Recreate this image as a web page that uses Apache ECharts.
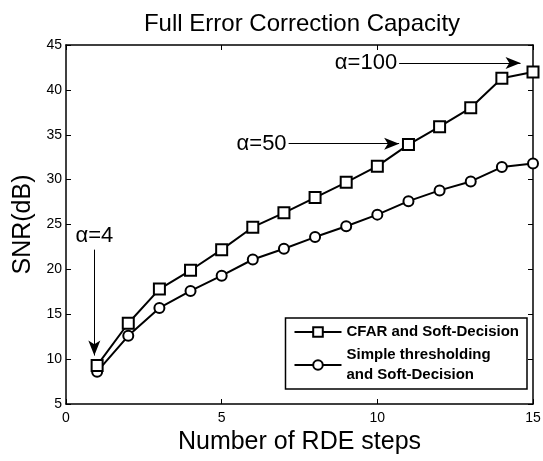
<!DOCTYPE html>
<html>
<head>
<meta charset="utf-8">
<script src="https://cdn.jsdelivr.net/npm/echarts@6/dist/echarts.min.js"></script>
<style>
  html, body { margin: 0; padding: 0; background: #fff; }
  #chart { width: 543px; height: 461px; }
</style>
</head>
<body>
<div id="chart"></div>
<script>
// data
var steps = [1, 2, 3, 4, 5, 6, 7, 8, 9, 10, 11, 12, 13, 14, 15];
var cfarSnr = [9.3, 14.0, 17.8, 19.9, 22.2, 24.7, 26.3, 28.0, 29.7, 31.5, 33.9, 35.9, 38.0, 41.3, 42.0];
var simpleSnr = [8.6, 12.6, 15.7, 17.6, 19.3, 21.1, 22.3, 23.6, 24.8, 26.1, 27.6, 28.8, 29.8, 31.4, 31.8];
var xTicks = [0, 5, 10, 15];
var yTicks = [5, 10, 15, 20, 25, 30, 35, 40, 45];

// annotation arrows [label, [x0, y0], [x1, y1]]
var arrows = [
  ['α=100', [10.7, 43.0], [14.6, 43.0]],
  ['α=50', [7.15, 34.0], [10.7, 34.0]],
  ['α=4', [0.91, 22.2], [0.91, 10.4]]
];

var chart = echarts.init(document.getElementById('chart'));

var font = 'Liberation Sans, Arial, sans-serif';

function pair(v) {
  return steps.map(function (s, i) { return [s, v[i]]; });
}

var arrowLines = arrows.map(function (a) {
  var vertical = a[1][0] === a[2][0];
  return [
    {
      coord: a[1],
      label: {
        show: true,
        formatter: a[0],
        position: 'start',
        distance: vertical ? 3 : 2,
        color: '#000',
        fontSize: 22,
        fontFamily: font
      }
    },
    { coord: a[2] }
  ];
});

var option = {
  backgroundColor: '#fff',
  animation: false,
  title: {
    text: 'Full Error Correction Capacity',
    left: 297,
    textAlign: 'center',
    top: 7,
    textStyle: { fontSize: 24, fontWeight: 'normal', color: '#000', fontFamily: font }
  },
  grid: { left: 66, right: 10, top: 45, bottom: 57, outerBoundsMode: 'none' },
  legend: {
    orient: 'vertical',
    right: 16,
    bottom: 72,
    padding: [4, 8, 4, 8],
    itemGap: 3,
    itemWidth: 47,
    itemHeight: 12,
    borderColor: '#000',
    borderWidth: 1.5,
    backgroundColor: '#fff',
    textStyle: { fontSize: 15, fontWeight: 'bold', color: '#000', fontFamily: font, lineHeight: 20 },
    data: ['CFAR and Soft-Decision', 'Simple thresholding\nand Soft-Decision']
  },
  xAxis: [{
    type: 'value',
    min: 0,
    max: 15,
    interval: 5,
    name: 'Number of RDE steps',
    nameLocation: 'middle',
    nameGap: 22,
    nameTextStyle: { fontSize: 25, color: '#000', fontFamily: font },
    axisLine: { onZero: false, lineStyle: { color: '#000', width: 1.5 } },
    axisTick: { inside: true, length: 5, lineStyle: { color: '#000' } },
    axisLabel: {
      color: '#000', fontSize: 14, fontFamily: font, margin: 7,
      formatter: function (v) { return xTicks.indexOf(v) >= 0 ? v : ''; }
    },
    splitLine: { show: false }
  }, {
    type: 'value',
    position: 'top',
    min: 0,
    max: 15,
    interval: 5,
    axisLine: { onZero: false, lineStyle: { color: '#000', width: 1.5 } },
    axisTick: { inside: true, length: 5, lineStyle: { color: '#000' } },
    axisLabel: { show: false },
    splitLine: { show: false }
  }],
  yAxis: [{
    type: 'value',
    min: 5,
    max: 45,
    interval: 5,
    name: 'SNR(dB)',
    nameLocation: 'middle',
    nameGap: 28,
    nameTextStyle: { fontSize: 25, color: '#000', fontFamily: font },
    axisLine: { show: true, onZero: false, lineStyle: { color: '#000', width: 1.5 } },
    axisTick: { show: true, inside: true, length: 5, lineStyle: { color: '#000' } },
    axisLabel: {
      color: '#000', fontSize: 14, fontFamily: font, margin: 4,
      formatter: function (v) { return yTicks.indexOf(v) >= 0 ? v : ''; }
    },
    splitLine: { show: false }
  }, {
    type: 'value',
    position: 'right',
    min: 5,
    max: 45,
    interval: 5,
    axisLine: { show: true, onZero: false, lineStyle: { color: '#000', width: 1.5 } },
    axisTick: { show: true, inside: true, length: 5, lineStyle: { color: '#000' } },
    axisLabel: { show: false },
    splitLine: { show: false }
  }],
  series: [{
    name: 'CFAR and Soft-Decision',
    type: 'line',
    data: pair(cfarSnr),
    symbol: 'rect',
    symbolSize: 11,
    lineStyle: { color: '#000', width: 2 },
    itemStyle: { color: '#fff', borderColor: '#000', borderWidth: 2 },
    z: 3,
    markLine: {
      silent: true,
      symbol: ['none', 'arrow'],
      symbolSize: [9, 15],
      lineStyle: { color: '#000', width: 1, type: 'solid' },
      data: arrowLines
    }
  }, {
    name: 'Simple thresholding\nand Soft-Decision',
    type: 'line',
    data: pair(simpleSnr),
    symbol: 'circle',
    symbolSize: 10,
    lineStyle: { color: '#000', width: 2 },
    itemStyle: { color: '#fff', borderColor: '#000', borderWidth: 2 },
    z: 2
  }]
};

chart.setOption(option);
</script>
</body>
</html>
